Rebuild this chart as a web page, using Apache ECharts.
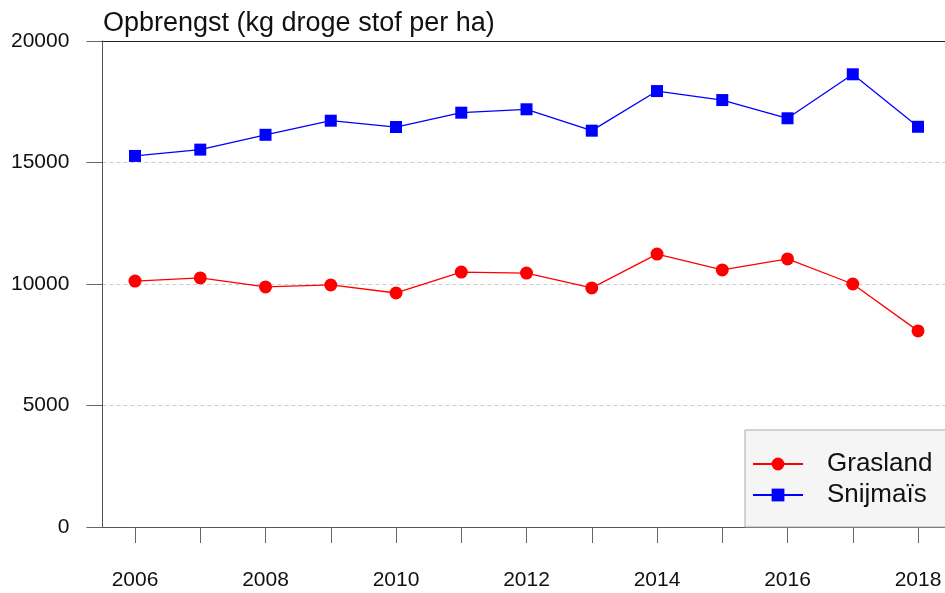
<!DOCTYPE html>
<html>
<head>
<meta charset="utf-8">
<script src="https://cdn.jsdelivr.net/npm/echarts@6/dist/echarts.min.js"></script>
<style>
  html, body { margin: 0; padding: 0; background: #fff; }
  #chart { width: 945px; height: 593px; }
</style>
</head>
<body>
<div id="chart"></div>
<script>
const years = ["2006", "2007", "2008", "2009", "2010", "2011", "2012", "2013", "2014", "2015", "2016", "2017", "2018"];
const grasland = [10120, 10250, 9880, 9960, 9630, 10490, 10450, 9840, 11230, 10580, 11030, 10000, 8070];
const snijmais = [15270, 15530, 16140, 16720, 16460, 17050, 17190, 16310, 17940, 17570, 16820, 18630, 16470];
const yTicks = [0, 5000, 10000, 15000, 20000];

const FONT = "'Liberation Sans', Arial, sans-serif";

const chart = echarts.init(document.getElementById("chart"), null, { renderer: "canvas" });

chart.setOption({
  animation: false,
  backgroundColor: "#fff",
  title: {
    text: "Opbrengst (kg droge stof per ha)",
    left: 103,
    top: 10,
    padding: 0,
    textStyle: { fontFamily: FONT, fontSize: 27, fontWeight: "normal", color: "#111" }
  },
  // band width 65.25px so 2006 sits at x=135 and 2018 at x=918
  grid: { left: 102.4, width: 848.25, top: 41, height: 486, containLabel: false, outerBoundsMode: "none" },
  legend: {
    orient: "vertical",
    left: 745,
    top: 430,
    padding: [21, 80, 19, 7],
    itemWidth: 50,
    itemHeight: 16,
    itemGap: 5,
    backgroundColor: "#f5f5f5",
    borderColor: "#aaa",
    borderWidth: 1,
    textStyle: { fontFamily: FONT, fontSize: 26, color: "#111", padding: [0, 0, 0, 19] },
    data: ["Grasland", "Snijmaïs"]
  },
  xAxis: [
    {
      type: "category",
      data: years,
      boundaryGap: true,
      axisLine: { lineStyle: { color: "#555", width: 1 } },
      axisTick: { show: true, interval: 0, alignWithLabel: true, length: 16, lineStyle: { color: "#666" } },
      axisLabel: { interval: 1, margin: 43, fontFamily: FONT, fontSize: 21, color: "#111" },
      splitLine: { show: false }
    },
    {
      type: "category",
      data: years,
      position: "top",
      axisLine: { lineStyle: { color: "#222", width: 1.2 } },
      axisTick: { show: false },
      axisLabel: { show: false },
      splitLine: { show: false }
    }
  ],
  yAxis: {
    type: "value",
    min: yTicks[0],
    max: yTicks[yTicks.length - 1],
    interval: 5000,
    axisLine: { show: true, lineStyle: { color: "#555" } },
    axisTick: { show: true, length: 16, lineStyle: { color: "#666" } },
    axisLabel: { margin: 33, fontFamily: FONT, fontSize: 21, color: "#111", formatter: v => String(v) },
    splitLine: {
      show: true,
      showMinLine: false,
      showMaxLine: false,
      lineStyle: { color: "#ccc", type: [4, 3], width: 1 }
    }
  },
  series: [
    {
      name: "Grasland",
      type: "line",
      data: grasland,
      symbol: "circle",
      symbolSize: 13,
      itemStyle: { color: "#ff0000" },
      lineStyle: { color: "#ff0000", width: 1.3 }
    },
    {
      name: "Snijmaïs",
      type: "line",
      data: snijmais,
      symbol: "rect",
      symbolSize: 12,
      itemStyle: { color: "#0000ff" },
      lineStyle: { color: "#0000ff", width: 1.3 }
    }
  ]
});
</script>
</body>
</html>
